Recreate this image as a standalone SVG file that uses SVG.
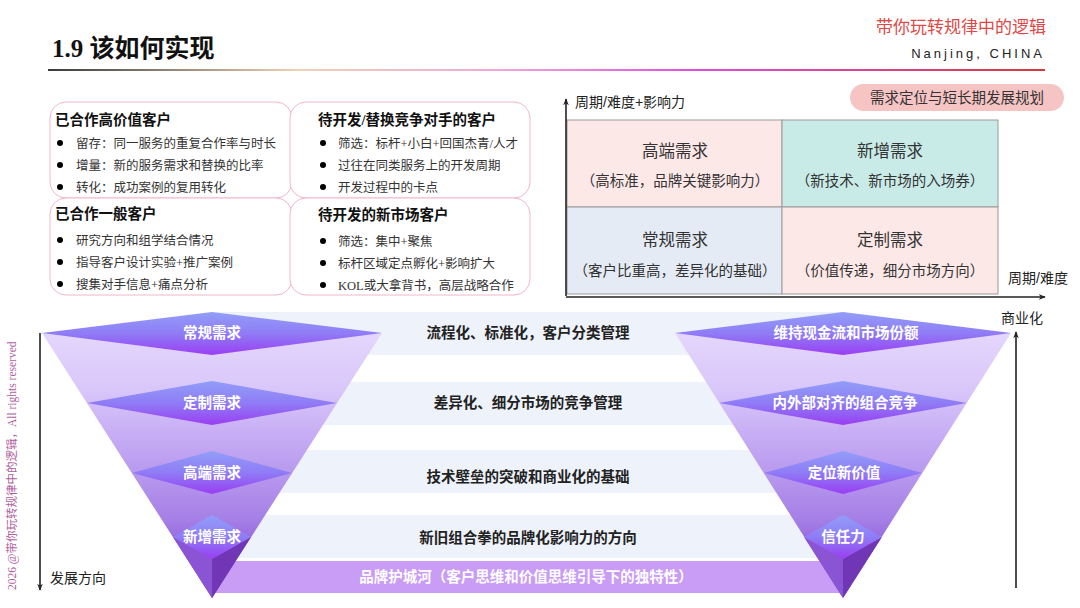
<svg xmlns="http://www.w3.org/2000/svg" width="1080" height="608" viewBox="0 0 1080 608">
<defs>
<style>
.cjk{font-family:"Liberation Sans","Noto Sans CJK SC",sans-serif;}
.mix{font-family:"Liberation Serif","Noto Sans CJK SC",serif;}
.h{font-size:14.5px;font-weight:bold;fill:#111;}
.b{font-size:12.5px;fill:#333;}
.q1{font-size:16.5px;fill:#333;text-anchor:middle;}
.q2{font-size:14.5px;fill:#333;text-anchor:middle;}
.band{font-size:14.5px;font-weight:bold;fill:#222;text-anchor:middle;}
.dt{font-size:14.5px;font-weight:bold;fill:#fff;text-anchor:middle;}
.box{fill:#fff;stroke:#f2b6ca;stroke-width:1;}
.qs{stroke:#9a9a9a;stroke-width:1;}
.ax{stroke:#222;stroke-width:1.6;fill:none;}
.lbl{font-size:14px;fill:#222;}
</style>
<linearGradient id="hl" x1="48" y1="0" x2="1045" y2="0" gradientUnits="userSpaceOnUse">
<stop offset="0" stop-color="#3a3a3a"/>
<stop offset="0.25" stop-color="#f0d2b4"/>
<stop offset="0.45" stop-color="#f0a8d8"/>
<stop offset="0.65" stop-color="#e04ce0"/>
<stop offset="1" stop-color="#d83838"/>
</linearGradient>
<linearGradient id="fun" x1="0" y1="333" x2="0" y2="598" gradientUnits="userSpaceOnUse">
<stop offset="0" stop-color="#e4d6fc"/>
<stop offset="0.2" stop-color="#dac8fa"/>
<stop offset="0.45" stop-color="#c0a4f2"/>
<stop offset="0.7" stop-color="#a680e6"/>
<stop offset="0.85" stop-color="#8c58d8"/>
<stop offset="1" stop-color="#6a2eb0"/>
</linearGradient>
<linearGradient id="dia" x1="0" y1="0" x2="0" y2="1">
<stop offset="0" stop-color="#929ef8"/>
<stop offset="0.5" stop-color="#8f7cf6"/>
<stop offset="1" stop-color="#9a3ef2"/>
</linearGradient>
<marker id="ah" viewBox="0 0 10 10" refX="9" refY="5" markerWidth="7" markerHeight="7" orient="auto-start-reverse" markerUnits="userSpaceOnUse">
<path d="M0,1 L10,5 L0,9 L3,5 Z" fill="#222"/>
</marker>
</defs>
<rect width="1080" height="608" fill="#fff"/>

<g id="header">
<text x="52" y="57" class="mix" font-size="25" font-weight="bold" fill="#111">1.9 该如何实现</text>
<text x="1046" y="33" class="cjk" font-size="17" fill="#e04848" text-anchor="end">带你玩转规律中的逻辑</text>
<text x="1045" y="58" font-family="Liberation Sans, sans-serif" font-size="13" letter-spacing="3" fill="#222" text-anchor="end">Nanjing, CHINA</text>
<line x1="48" y1="70" x2="1045" y2="70" stroke="url(#hl)" stroke-width="2"/>
</g>

<g id="copyright">
<text transform="translate(16,590) rotate(-90)" class="mix" font-size="11.5" fill="#b0609e">2026 @带你玩转规律中的逻辑，All rights reserved</text>
</g>

<g id="client-boxes">
<g id="box-high-value">
<rect class="box" x="50" y="102" width="242" height="96" rx="16"/>
</g>
<g id="box-general">
<rect class="box" x="50" y="198" width="242" height="97" rx="16"/>
</g>
<g id="box-competitor">
<rect class="box" x="290" y="102" width="240" height="96" rx="16"/>
</g>
<g id="box-new-market">
<rect class="box" x="290" y="198" width="240" height="97" rx="16"/>
</g>
<g class="mix">
<text x="55" y="125" class="h">已合作高价值客户</text>
<circle cx="60" cy="143" r="3"/><text x="76" y="147.5" class="b">留存：同一服务的重复合作率与时长</text>
<circle cx="60" cy="165" r="3"/><text x="76" y="169.5" class="b">增量：新的服务需求和替换的比率</text>
<circle cx="60" cy="187" r="3"/><text x="76" y="191.5" class="b">转化：成功案例的复用转化</text>
<text x="55" y="219" class="h">已合作一般客户</text>
<circle cx="60" cy="240" r="3"/><text x="76" y="244.5" class="b">研究方向和组学结合情况</text>
<circle cx="60" cy="262" r="3"/><text x="76" y="266.5" class="b">指导客户设计实验+推广案例</text>
<circle cx="60" cy="284" r="3"/><text x="76" y="288.5" class="b">搜集对手信息+痛点分析</text>

<text x="318" y="125" class="h">待开发/替换竞争对手的客户</text>
<circle cx="323" cy="143" r="3"/><text x="338" y="147.5" class="b">筛选：标杆+小白+回国杰青/人才</text>
<circle cx="323" cy="165" r="3"/><text x="338" y="169.5" class="b">过往在同类服务上的开发周期</text>
<circle cx="323" cy="187" r="3"/><text x="338" y="191.5" class="b">开发过程中的卡点</text>
<text x="318" y="220" class="h">待开发的新市场客户</text>
<circle cx="323" cy="241" r="3"/><text x="338" y="245.5" class="b">筛选：集中+聚焦</text>
<circle cx="323" cy="263" r="3"/><text x="338" y="267.5" class="b">标杆区域定点孵化+影响扩大</text>
<circle cx="323" cy="285" r="3"/><text x="338" y="289.5" class="b">KOL或大拿背书，高层战略合作</text>
</g>
</g>

<g id="matrix">
<g id="badge">
<rect x="850" y="84" width="214" height="27" rx="13.5" fill="#f7c4c4"/>
<text x="957" y="103" class="cjk" font-size="14.5" fill="#333" text-anchor="middle">需求定位与短长期发展规划</text>
</g>
<g id="q-high">
<rect class="qs" x="567" y="120" width="215" height="87" fill="#fde8e8"/>
<text x="675" y="157" class="cjk q1">高端需求</text>
<text x="675" y="186" class="cjk q2">（高标准，品牌关键影响力）</text>
</g>
<g id="q-new">
<rect class="qs" x="782" y="120" width="216" height="87" fill="#c9ebe8"/>
<text x="890" y="157" class="cjk q1">新增需求</text>
<text x="890" y="186" class="cjk q2">（新技术、新市场的入场券）</text>
</g>
<g id="q-regular">
<rect class="qs" x="567" y="207" width="215" height="87" fill="#e5ebf5"/>
<text x="675" y="246" class="cjk q1">常规需求</text>
<text x="675" y="276" class="cjk q2">（客户比重高，差异化的基础）</text>
</g>
<g id="q-custom">
<rect class="qs" x="782" y="207" width="216" height="87" fill="#fde8e8"/>
<text x="890" y="246" class="cjk q1">定制需求</text>
<text x="890" y="276" class="cjk q2">（价值传递，细分市场方向）</text>
</g>
<text x="575" y="107" class="cjk lbl">周期/难度+影响力</text>
<text x="1008" y="283" class="cjk lbl">周期/难度</text>
</g>

<g id="bands">
<rect x="212" y="312" width="631" height="43" fill="#eef2fb"/>
<rect x="212" y="382" width="631" height="43" fill="#eef2fb"/>
<rect x="212" y="450" width="631" height="43" fill="#eef2fb"/>
<rect x="212" y="515" width="631" height="43" fill="#eef2fb"/>
<rect x="212" y="561" width="631" height="32" fill="#c99cf6"/>
<g class="cjk">
<text x="528" y="338" class="band">流程化、标准化，客户分类管理</text>
<text x="528" y="408" class="band">差异化、细分市场的竞争管理</text>
<text x="528" y="482" class="band">技术壁垒的突破和商业化的基础</text>
<text x="528" y="543" class="band">新旧组合拳的品牌化影响力的方向</text>
<text x="526" y="582" class="dt">品牌护城河（客户思维和价值思维引导下的独特性）</text>
</g>
</g>

<g id="funnel-left">
<polygon points="42,333 382,333 212,598" fill="url(#fun)"/>
<polygon points="173,537 212,559 212,598" fill="#8a54d4"/>
<polygon points="251,537 212,559 212,598" fill="#7036b6"/>
<polygon points="42,333 212,312 382,333 212,355" fill="url(#dia)"/>
<polygon points="87,403 212,381 337,403 212,425" fill="url(#dia)"/>
<polygon points="132,473 212,451 292,473 212,494" fill="url(#dia)"/>
<polygon points="173,537 212,515 251,537 212,559" fill="url(#dia)"/>
<g class="cjk">
<text x="212" y="338" class="dt">常规需求</text>
<text x="212" y="408" class="dt">定制需求</text>
<text x="212" y="478" class="dt">高端需求</text>
<text x="212" y="542" class="dt">新增需求</text>
</g>
</g>

<g id="funnel-right">
<polygon points="675,333 1011,333 843,598" fill="url(#fun)"/>
<polygon points="804,537 843,559 843,598" fill="#8a54d4"/>
<polygon points="882,537 843,559 843,598" fill="#7036b6"/>
<polygon points="675,333 843,312 1011,333 843,355" fill="url(#dia)"/>
<polygon points="719,403 843,381 967,403 843,425" fill="url(#dia)"/>
<polygon points="764,473 843,451 922,473 843,494" fill="url(#dia)"/>
<polygon points="804,537 843,515 882,537 843,559" fill="url(#dia)"/>
<g class="cjk">
<text x="846" y="338" class="dt">维持现金流和市场份额</text>
<text x="845" y="408" class="dt">内外部对齐的组合竞争</text>
<text x="844" y="478" class="dt">定位新价值</text>
<text x="843" y="542" class="dt">信任力</text>
</g>
</g>

<g id="connectors">
<line class="ax" x1="566" y1="296" x2="566" y2="99" marker-end="url(#ah)"/>
<line class="ax" x1="566" y1="297" x2="1045" y2="297" marker-end="url(#ah)"/>
<line class="ax" x1="40" y1="333" x2="40" y2="590" marker-end="url(#ah)"/>
<line class="ax" x1="1016" y1="588" x2="1016" y2="332" marker-end="url(#ah)"/>
</g>
<g id="axis-labels" class="cjk">
<text x="50" y="583" class="lbl">发展方向</text>
<text x="1022" y="323" class="lbl" text-anchor="middle">商业化</text>
</g>
</svg>
